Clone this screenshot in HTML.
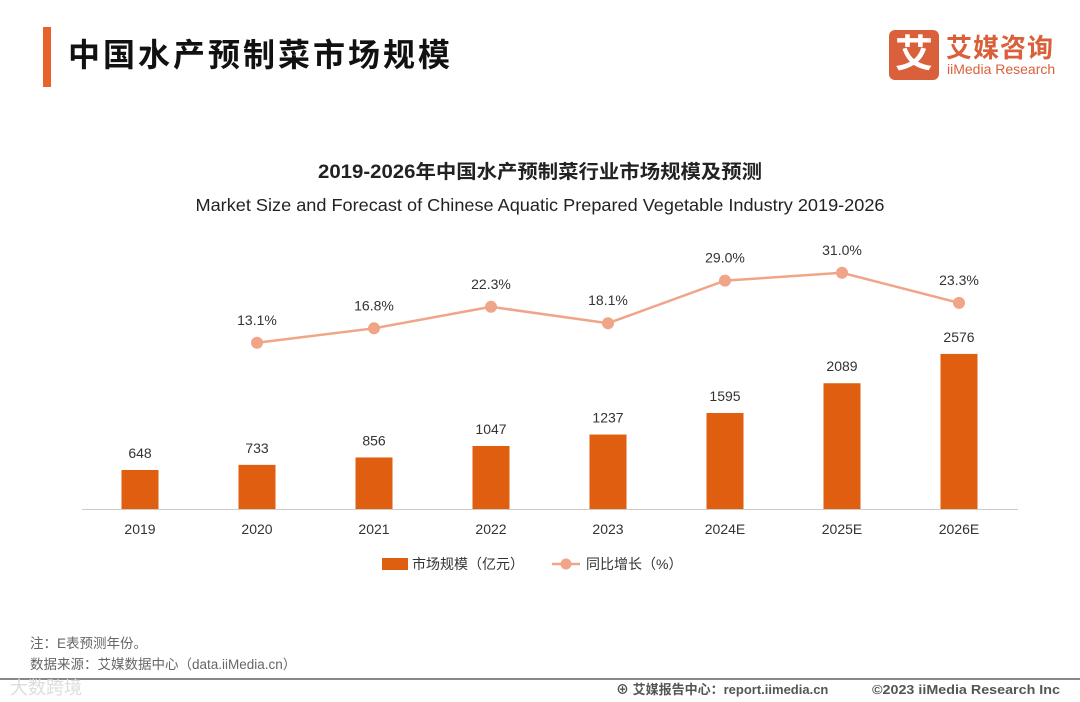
<!DOCTYPE html>
<html><head><meta charset="utf-8"><style>
body{margin:0;width:1080px;height:702px;background:#fff;overflow:hidden;position:relative;font-family:"Liberation Sans","Noto Sans CJK SC",sans-serif}
.a{position:absolute}
</style></head><body>
<div class="a" style="left:43px;top:27px;width:8px;height:60px;background:#e8622c"></div>
<div class="a" style="left:68px;top:30px;font-size:32px;letter-spacing:3px;font-weight:bold;color:#111">中国水产预制菜市场规模</div>
<div class="a" style="left:889px;top:30px;width:170px;height:50px">
 <div style="position:absolute;left:0;top:0;width:50px;height:50px;background:#d9603a;border-radius:6px;color:#fff;font-size:38px;font-weight:bold;text-align:center;line-height:50px">艾</div>
 <div style="position:absolute;left:57px;top:-2px;font-size:26px;font-weight:bold;color:#d9603a;letter-spacing:1px">艾媒咨询</div>
 <div style="position:absolute;left:58px;top:31px;font-size:14px;color:#d9603a">iiMedia Research</div>
</div>
<svg class="a" style="left:0;top:0" width="1080" height="702" id="chart">
<text x="540" y="178" text-anchor="middle" font-size="19" font-weight="bold" fill="#222" textLength="444" lengthAdjust="spacingAndGlyphs">2019-2026年中国水产预制菜行业市场规模及预测</text>
<text x="540" y="211" text-anchor="middle" font-size="17.5" fill="#222" textLength="689" lengthAdjust="spacingAndGlyphs">Market Size and Forecast of Chinese Aquatic Prepared Vegetable Industry 2019-2026</text>
<line x1="82" y1="509.5" x2="1018" y2="509.5" stroke="#ccc"/>
<g id="bars"></g><g id="line"></g><g id="labels"></g>
<rect x="382" y="558" width="26" height="12" fill="#e05e10"/>
<text x="412" y="569" font-size="14" fill="#333">市场规模（亿元）</text>
<line x1="552" y1="564" x2="580" y2="564" stroke="#f0a488" stroke-width="2.5"/>
<circle cx="566" cy="564" r="5.5" fill="#f0a488"/>
<text x="586" y="569" font-size="14" fill="#333">同比增长（%）</text>
<text x="30" y="648" font-size="13.5" fill="#666">注：E表预测年份。</text>
<text x="30" y="669" font-size="13.5" fill="#666">数据来源：艾媒数据中心（data.iiMedia.cn）</text>
<line x1="0" y1="679" x2="1080" y2="679" stroke="#888" stroke-width="2"/>
<text x="10" y="694" font-size="18" fill="#ddd">大数跨境</text>
<text x="616" y="694" font-size="13" font-weight="bold" fill="#555">⊕ 艾媒报告中心：report.iimedia.cn</text>
<text x="872" y="694" font-size="13" font-weight="bold" fill="#555" textLength="188" lengthAdjust="spacingAndGlyphs">©2023  iiMedia Research  Inc</text>
</svg>
<script>
const categories=["2019","2020","2021","2022","2023","2024E","2025E","2026E"];
const marketSize=[648,733,856,1047,1237,1595,2089,2576];
const growth=[null,13.1,16.8,22.3,18.1,29.0,31.0,23.3];
const NS="http://www.w3.org/2000/svg";
const x0=140,step=117,base=509,bw=37;
const xs=i=>x0+i*step;
const yBar=v=>base-v*0.0602;
const yLine=v=>394-v*3.91;
function mk(tag,attrs,parent,txt){const e=document.createElementNS(NS,tag);for(const k in attrs)e.setAttribute(k,attrs[k]);if(txt!=null)e.textContent=txt;document.getElementById(parent).appendChild(e);return e;}
categories.forEach((c,i)=>{
 const t=yBar(marketSize[i]);
 const r=mk('rect',{x:xs(i)-bw/2,y:t,width:bw,height:base-t,fill:'#e05e10'},'bars');
 
 
 const l=mk('text',{x:xs(i),y:t-12,'text-anchor':'middle','font-size':14,fill:'#333'},'labels',marketSize[i]);
 
 
 const xl=mk('text',{x:xs(i),y:534,'text-anchor':'middle','font-size':14,fill:'#333'},'labels',c);
 
 
});
let pts=[];
growth.forEach((g,i)=>{if(g!=null)pts.push([xs(i),yLine(g),g,categories[i]]);});
const pl=mk('polyline',{points:pts.map(p=>p[0]+','+p[1]).join(' '),fill:'none',stroke:'#f0a488','stroke-width':2.5},'line');


pts.forEach(p=>{
 const c=mk('circle',{cx:p[0],cy:p[1],r:6,fill:'#f0a488'},'line');
 
 
 const t=mk('text',{x:p[0],y:p[1]-18,'text-anchor':'middle','font-size':14,fill:'#333'},'labels',p[2].toFixed(1)+'%');
 
 
});
</script>
</body></html>
